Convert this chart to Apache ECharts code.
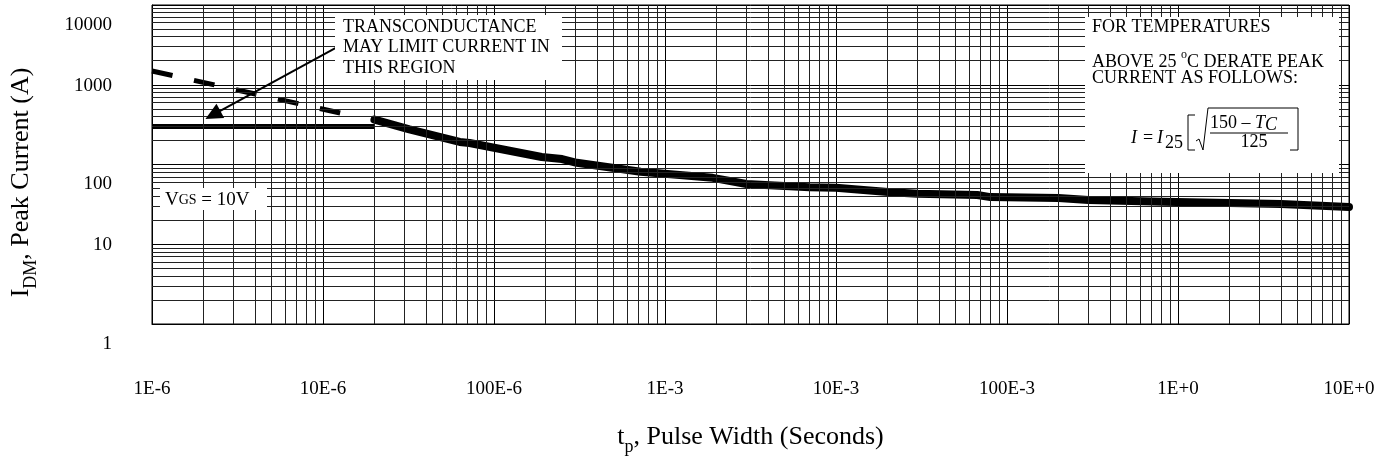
<!DOCTYPE html>
<html>
<head>
<meta charset="utf-8">
<title>Peak Current Capability</title>
<script src="https://cdn.jsdelivr.net/npm/echarts@6/dist/echarts.min.js"></script>
<style>
html,body{margin:0;padding:0;background:#fff;}
#main{width:1386px;height:463px;}
</style>
</head>
<body>
<div id="main"></div>
<script>
// tick labels (decades)
var xTickLabels = ["1E-6", "10E-6", "100E-6", "1E-3", "10E-3", "100E-3", "1E+0", "10E+0"];
var yTickLabels = ["1", "10", "100", "1000", "10000"];

// flat part, limited to 300A
var flatPulse = [1e-6, 2e-5];
var flatCurrent = [300, 300];

// transconductance limited region (dashed)
var gmPulse = [1e-6, 1.26e-5];
var gmCurrent = [1490, 442];

// peak current curve
var pulseWidth = [2.0e-5, 3.2e-5, 4.8e-5, 6.3e-5, 7.2e-5, 1.9e-4, 2.5e-4, 3.05e-4, 7.2e-4, 1.9e-3,
	3.0e-3, 4.1e-3, 7.0e-3, 1.0e-2, 2.1e-2, 3.0e-2, 6.7e-2, 8.0e-2, 0.2, 0.3, 0.82, 2.0, 4.0, 10];
var peakCurrent = [365, 275, 222, 192, 186, 124, 117, 105, 81, 68,
	57, 55, 52, 51, 45, 43, 41.5, 39, 38, 36, 34, 33, 32, 29.3];

// arrow pointing at the dashed region
var arrowPulse = [1.21e-5, 2.27e-6];
var arrowCurrent = [2970, 418];

var serif = "Liberation Serif";

function pairs(xs, ys){
	var out = [];
	for(var i = 0; i < xs.length; i++){
		out.push([xs[i], ys[i]]);
	}
	return out;
}

//log grid lines at 2..9 of each decade
var minorLines = [];
for(var d = -6; d <= 0; d++){
	for(var m = 2; m <= 9; m++){
		minorLines.push({xAxis: m * Math.pow(10, d)});
	}
}
for(var e = 0; e <= 3; e++){
	for(var n = 2; n <= 9; n++){
		minorLines.push({yAxis: n * Math.pow(10, e)});
	}
}

var myChart = echarts.init(document.getElementById('main'));

var option = {
	animation: false,
	backgroundColor: '#fff',
	grid: {
		left: 152, right: 37, top: 5, bottom: 139,
		show: true, borderColor: '#000', borderWidth: 1
	},
	xAxis: {
		type: 'log', logBase: 10, min: 1e-6, max: 10,
		axisLine: {show: true, lineStyle: {color: '#000', width: 1}},
		axisTick: {show: false},
		splitLine: {show: true, lineStyle: {color: '#000', width: 1}},
		axisLabel: {
			color: '#000', fontFamily: serif, fontSize: 19, margin: 56,
			formatter: function(v){
				return xTickLabels[Math.round(Math.log(v) / Math.LN10) + 6];
			}
		},
		name: '{a|t}{s|p}{a|, Pulse Width (Seconds)}',
		nameLocation: 'middle',
		nameGap: 100,
		nameTextStyle: {
			rich: {
				a: {fontFamily: serif, fontSize: 26, color: '#000', lineHeight: 32, verticalAlign: 'top'},
				s: {fontFamily: serif, fontSize: 18, color: '#000', lineHeight: 32, verticalAlign: 'bottom'}
			}
		}
	},
	yAxis: {
		type: 'log', logBase: 10, min: 1, max: 10000,
		axisLine: {show: true, lineStyle: {color: '#000', width: 1}},
		axisTick: {show: false},
		splitLine: {show: true, lineStyle: {color: '#000', width: 1}},
		axisLabel: {
			color: '#000', fontFamily: serif, fontSize: 19, margin: 40,
			formatter: function(v){
				var k = Math.round(Math.log(v) / Math.LN10);
				//the original sheet prints every other label a bit lower
				return (k % 2 === 0 ? '{lo|' : '{up|') + yTickLabels[k] + '}';
			},
			rich: {
				lo: {fontFamily: serif, fontSize: 19, color: '#000', padding: [40, 0, 0, 0]},
				up: {fontFamily: serif, fontSize: 19, color: '#000', padding: [2, 0, 0, 0]}
			}
		},
		name: '{a|I}{s|DM}{a|, Peak Current (A)}',
		nameLocation: 'middle',
		nameGap: 112,
		nameTextStyle: {
			padding: [0, 36, 0, 0],
			rich: {
				a: {fontFamily: serif, fontSize: 26, color: '#000', lineHeight: 32, verticalAlign: 'top'},
				s: {fontFamily: serif, fontSize: 18, color: '#000', lineHeight: 32, verticalAlign: 'bottom'}
			}
		}
	},
	series: [
		{
			//grid lines inside each decade
			name: 'grid', type: 'line', data: [], z: 1, silent: true,
			markLine: {
				silent: true, precision: 12, symbol: ['none', 'none'], label: {show: false},
				lineStyle: {color: '#222', width: 1, type: 'solid'},
				emphasis: {disabled: true},
				data: minorLines
			}
		},
		{
			name: 'flat', type: 'line', z: 3, showSymbol: false, silent: true,
			lineStyle: {color: '#000', width: 5},
			data: pairs(flatPulse, flatCurrent)
		},
		{
			name: 'gm', type: 'line', z: 3, showSymbol: false, silent: true,
			lineStyle: {color: '#000', width: 5, type: [21, 22]},
			data: pairs(gmPulse, gmCurrent)
		},
		{
			name: 'peak', type: 'line', z: 3, showSymbol: false, silent: true,
			lineStyle: {color: '#000', width: 8, join: 'round', cap: 'round'},
			data: pairs(pulseWidth, peakCurrent),
			markLine: {
				silent: true, precision: 12, symbol: ['none', 'triangle'], symbolSize: [16, 17],
				label: {show: false},
				lineStyle: {color: '#000', width: 2, type: 'solid'},
				emphasis: {disabled: true},
				data: [[
					{coord: [arrowPulse[0], arrowCurrent[0]]},
					{coord: [arrowPulse[1], arrowCurrent[1]]}
				]]
			}
		}
	],
	graphic: [
		//note box on the left
		{type: 'rect', z: 10, shape: {x: 335, y: 15, width: 227, height: 65}, style: {fill: '#fff'}},
		{type: 'text', z: 11, x: 343, y: 17,
			style: {text: 'TRANSCONDUCTANCE\nMAY LIMIT CURRENT IN\nTHIS REGION', fontFamily: serif, fontSize: 18,
				lineHeight: 20.5, fill: '#000', verticalAlign: 'top'}},
		//VGS box
		{type: 'rect', z: 10, shape: {x: 160, y: 188, width: 107, height: 22}, style: {fill: '#fff'}},
		{type: 'text', z: 11, x: 165, y: 200,
			style: {text: '{b|V}{s|GS}{b| = 10V}', verticalAlign: 'middle',
				rich: {
					b: {fontFamily: serif, fontSize: 19, fill: '#000'},
					s: {fontFamily: serif, fontSize: 14, fill: '#000'}
				}}},
		//derating box on the right
		{type: 'rect', z: 10, shape: {x: 1085, y: 17, width: 254, height: 156}, style: {fill: '#fff'}},
		{type: 'text', z: 11, x: 1092, y: 27,
			style: {text: 'FOR TEMPERATURES', fontFamily: serif, fontSize: 18, fill: '#000', verticalAlign: 'middle'}},
		{type: 'text', z: 11, x: 1092, y: 60,
			style: {text: '{t|ABOVE 25 }{o|o}{t|C DERATE PEAK}', verticalAlign: 'middle',
				rich: {
					t: {fontFamily: serif, fontSize: 18, fill: '#000', lineHeight: 22, verticalAlign: 'bottom'},
					o: {fontFamily: serif, fontSize: 12, fill: '#000', lineHeight: 22, verticalAlign: 'top'}
				}}},
		{type: 'text', z: 11, x: 1092, y: 78,
			style: {text: 'CURRENT AS FOLLOWS:', fontFamily: serif, fontSize: 18, fill: '#000', verticalAlign: 'middle'}},
		//formula I = I25 [ sqrt((150 - Tc)/125) ]
		{type: 'text', z: 11, x: 1131, y: 138,
			style: {text: 'I', fontFamily: serif, fontStyle: 'italic', fontSize: 18, fill: '#000', verticalAlign: 'middle'}},
		{type: 'text', z: 11, x: 1143, y: 138,
			style: {text: '=', fontFamily: serif, fontSize: 18, fill: '#000', verticalAlign: 'middle'}},
		{type: 'text', z: 11, x: 1157, y: 138,
			style: {text: 'I', fontFamily: serif, fontStyle: 'italic', fontSize: 18, fill: '#000', verticalAlign: 'middle'}},
		{type: 'text', z: 11, x: 1165, y: 143,
			style: {text: '25', fontFamily: serif, fontSize: 18, fill: '#000', verticalAlign: 'middle'}},
		{type: 'polyline', z: 11, shape: {points: [[1195, 115], [1188, 115], [1188, 150], [1195, 150]]},
			style: {stroke: '#000', lineWidth: 1, fill: null}},
		{type: 'polyline', z: 11, shape: {points: [[1196, 141], [1199, 139], [1203, 150], [1208, 108], [1290, 108]]},
			style: {stroke: '#000', lineWidth: 1, fill: null}},
		{type: 'polyline', z: 11, shape: {points: [[1290, 108], [1298, 108], [1298, 150], [1290, 150]]},
			style: {stroke: '#000', lineWidth: 1, fill: null}},
		{type: 'text', z: 11, x: 1210, y: 124,
			style: {text: '{n|150 – }{i|T}{c|C}', verticalAlign: 'middle',
				rich: {
					n: {fontFamily: serif, fontSize: 18, fill: '#000', lineHeight: 20, verticalAlign: 'top'},
					i: {fontFamily: serif, fontStyle: 'italic', fontSize: 18, fill: '#000', lineHeight: 20, verticalAlign: 'top'},
					c: {fontFamily: serif, fontStyle: 'italic', fontSize: 18, fill: '#000', lineHeight: 20, verticalAlign: 'bottom', padding: [6, 0, 0, 0]}
				}}},
		{type: 'line', z: 11, shape: {x1: 1210, y1: 133, x2: 1288, y2: 133}, style: {stroke: '#000', lineWidth: 1}},
		{type: 'text', z: 11, x: 1254, y: 142,
			style: {text: '125', fontFamily: serif, fontSize: 18, fill: '#000', align: 'center', verticalAlign: 'middle'}}
	]
};

myChart.setOption(option);
</script>
</body>
</html>
